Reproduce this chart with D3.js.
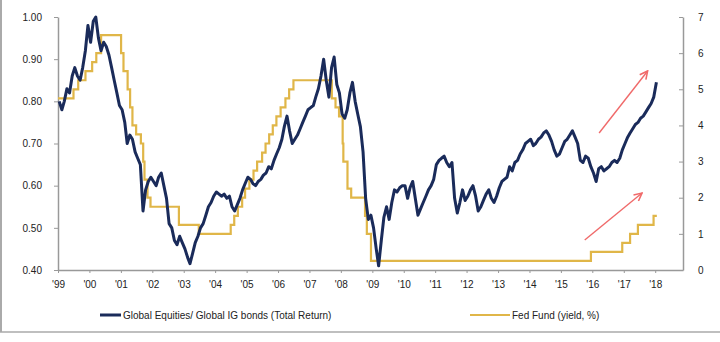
<!DOCTYPE html>
<html>
<head>
<meta charset="utf-8">
<script src="https://cdn.jsdelivr.net/npm/d3@7.9.0/dist/d3.min.js"></script>
<style>
  html, body { margin: 0; padding: 0; background: #fff; }
  svg { display: block; font-family: 'Liberation Sans', Arial, sans-serif; }
  .axis path, .axis line { stroke: #999; }
  .axis text { fill: #222; font-size: 10px; }
</style>
</head>
<body>
<svg id="chart" width="720" height="342"></svg>
<script>
// Global Equities / Global IG bonds ratio, monthly from Jan 1999
const ratioStartYear = 1999;
const ratio = [
  0.80, 0.78, 0.80, 0.83, 0.82, 0.86, 0.88, 0.86, 0.85, 0.88, 0.92, 0.98,   // 1999
  0.94, 0.99, 1.00, 0.95, 0.92, 0.94, 0.93, 0.91, 0.88, 0.85, 0.82, 0.79,   // 2000
  0.78, 0.75, 0.70, 0.72, 0.71, 0.68, 0.665, 0.65, 0.54, 0.59, 0.61, 0.62,  // 2001
  0.61, 0.60, 0.62, 0.63, 0.60, 0.57, 0.51, 0.50, 0.47, 0.46, 0.48, 0.465,  // 2002
  0.45, 0.43, 0.415, 0.44, 0.465, 0.48, 0.50, 0.51, 0.53, 0.55, 0.56, 0.575, // 2003
  0.585, 0.58, 0.575, 0.58, 0.57, 0.575, 0.55, 0.54, 0.555, 0.57, 0.59, 0.605, // 2004
  0.62, 0.615, 0.605, 0.60, 0.61, 0.615, 0.625, 0.63, 0.645, 0.64, 0.66, 0.675, // 2005
  0.69, 0.71, 0.74, 0.765, 0.73, 0.70, 0.71, 0.72, 0.735, 0.75, 0.765, 0.78,  // 2006
  0.785, 0.79, 0.81, 0.83, 0.86, 0.90, 0.85, 0.81, 0.88, 0.905, 0.84, 0.82,  // 2007
  0.77, 0.76, 0.78, 0.82, 0.845, 0.80, 0.77, 0.74, 0.68, 0.57, 0.52, 0.53,  // 2008
  0.50, 0.45, 0.41, 0.47, 0.525, 0.55, 0.52, 0.56, 0.59, 0.585, 0.595, 0.60, // 2009
  0.60, 0.57, 0.595, 0.61, 0.57, 0.53, 0.545, 0.56, 0.575, 0.59, 0.60, 0.615, // 2010
  0.65, 0.66, 0.665, 0.67, 0.655, 0.645, 0.655, 0.57, 0.535, 0.56, 0.59, 0.565, // 2011
  0.575, 0.59, 0.60, 0.575, 0.54, 0.55, 0.565, 0.58, 0.59, 0.57, 0.56, 0.575, // 2012
  0.595, 0.61, 0.615, 0.62, 0.645, 0.635, 0.655, 0.66, 0.675, 0.685, 0.70, 0.705, // 2013
  0.71, 0.695, 0.70, 0.71, 0.715, 0.725, 0.73, 0.72, 0.705, 0.685, 0.67, 0.675, // 2014
  0.69, 0.705, 0.71, 0.72, 0.73, 0.715, 0.70, 0.66, 0.655, 0.67, 0.665, 0.645, // 2015
  0.63, 0.61, 0.64, 0.645, 0.635, 0.64, 0.645, 0.655, 0.66, 0.655, 0.665, 0.685, // 2016
  0.70, 0.715, 0.725, 0.735, 0.745, 0.75, 0.76, 0.765, 0.775, 0.785, 0.795, 0.81, // 2017
  0.845                                                                      // 2018
];

// Fed funds target: dates of change and the new level (%)
const fedDates = [
  '1999-01-01', '1999-06-30', '1999-08-24', '1999-11-16', '2000-02-02', '2000-03-21', '2000-05-16',
  '2001-01-03', '2001-01-31', '2001-03-20', '2001-04-18', '2001-05-15', '2001-06-27', '2001-08-21',
  '2001-09-17', '2001-10-02', '2001-11-06', '2001-12-11', '2002-11-06', '2003-06-25',
  '2004-06-30', '2004-08-10', '2004-09-21', '2004-11-10', '2004-12-14', '2005-02-02', '2005-03-22',
  '2005-05-03', '2005-06-30', '2005-08-09', '2005-09-20', '2005-11-01', '2005-12-13', '2006-01-31',
  '2006-03-28', '2006-05-10', '2006-06-29', '2007-09-18', '2007-10-31', '2007-12-11', '2008-01-22',
  '2008-01-30', '2008-03-18', '2008-04-30', '2008-10-08', '2008-10-29', '2008-12-16', '2015-12-16',
  '2016-12-14', '2017-03-15', '2017-06-14', '2017-12-13', '2018-01-20'
];
const fedRates = [
  4.75, 5.00, 5.25, 5.50, 5.75, 6.00, 6.50,
  6.00, 5.50, 5.00, 4.50, 4.00, 3.75, 3.50,
  3.00, 2.50, 2.00, 1.75, 1.25, 1.00,
  1.25, 1.50, 1.75, 2.00, 2.25, 2.50, 2.75,
  3.00, 3.25, 3.50, 3.75, 4.00, 4.25, 4.50,
  4.75, 5.00, 5.25, 4.75, 4.50, 4.25, 3.50,
  3.00, 2.25, 2.00, 1.50, 1.00, 0.25, 0.50,
  0.75, 1.00, 1.25, 1.50, 1.50
];

const yearTicks = d3.range(1999, 2019);
const leftTicks = [0.40, 0.50, 0.60, 0.70, 0.80, 0.90, 1.00];
const rightTicks = [0, 1, 2, 3, 4, 5, 6, 7];

// red arrows: [start date, start value, end date, end value, axis]
const arrows = [
  ['2016-03-20', 0.725, '2017-10-05', 0.872, 'left'],
  ['2015-10-05', 0.83, '2017-08-01', 2.13, 'right']
];

const legendItems = [
  { label: 'Global Equities/ Global IG bonds (Total Return)', color: '#1a2b5a', width: 3 },
  { label: 'Fed Fund (yield, %)', color: '#e0b648', width: 2.2 }
];

const parse = d3.timeParse('%Y-%m-%d');
const ratioData = ratio.map((v, i) => ({ date: new Date(ratioStartYear, i, 15), value: v }));
const fedData = fedDates.map((d, i) => ({ date: parse(d), value: fedRates[i] }));

const svg = d3.select('#chart');
svg.append('rect').attr('width', 720).attr('height', 342).attr('fill', '#fff');

const x = d3.scaleTime()
  .domain([new Date(1999, 0, 1), new Date(2018, 10, 20)])
  .range([58, 683]);
const yLeft = d3.scaleLinear().domain([0.4, 1.0]).range([270, 17]);
const yRight = d3.scaleLinear().domain([0, 7]).range([270, 17]);

// frame lines at the left and bottom of the picture
svg.append('line').attr('x1', 1).attr('x2', 1).attr('y1', 0).attr('y2', 332)
  .attr('stroke', '#aaa').attr('stroke-width', 2);
svg.append('line').attr('x1', 0).attr('x2', 720).attr('y1', 332).attr('y2', 332)
  .attr('stroke', '#aaa').attr('stroke-width', 1.5);

// axes
svg.append('g')
  .attr('class', 'axis')
  .attr('transform', 'translate(58,0)')
  .call(d3.axisLeft(yLeft).tickValues(leftTicks).tickFormat(d3.format('.2f'))
    .tickSizeInner(4).tickSizeOuter(0).tickPadding(12));

svg.append('g')
  .attr('class', 'axis')
  .attr('transform', 'translate(683,0)')
  .call(d3.axisRight(yRight).tickValues(rightTicks).tickFormat(d3.format('d'))
    .tickSizeInner(-4).tickSizeOuter(0).tickPadding(15));

svg.append('g')
  .attr('class', 'axis')
  .attr('transform', 'translate(0,270)')
  .call(d3.axisBottom(x).tickValues(yearTicks.map((yr) => new Date(yr, 0, 1)))
    .tickFormat((d) => "'" + d3.timeFormat('%y')(d))
    .tickSizeInner(3).tickSizeOuter(0).tickPadding(8));

svg.selectAll('.axis path').attr('stroke-width', 1.5);

// series
svg.append('path')
  .datum(fedData)
  .attr('fill', 'none')
  .attr('stroke', legendItems[1].color)
  .attr('stroke-width', legendItems[1].width)
  .attr('d', d3.line().curve(d3.curveStepAfter).x((d) => x(d.date)).y((d) => yRight(d.value)));

svg.append('path')
  .datum(ratioData)
  .attr('fill', 'none')
  .attr('stroke', legendItems[0].color)
  .attr('stroke-width', legendItems[0].width)
  .attr('stroke-linejoin', 'round')
  .attr('d', d3.line().x((d) => x(d.date)).y((d) => yLeft(d.value)));

// arrows
svg.append('defs').append('marker')
  .attr('id', 'head')
  .attr('viewBox', '0 0 10 10')
  .attr('refX', 9).attr('refY', 5)
  .attr('markerWidth', 7).attr('markerHeight', 7)
  .attr('orient', 'auto')
  .append('path')
  .attr('d', 'M1,1 L9,5 L1,9')
  .attr('fill', 'none')
  .attr('stroke', '#f06a6a')
  .attr('stroke-width', 1.6);

arrows.forEach(([d0, v0, d1, v1, axis]) => {
  const y = axis === 'left' ? yLeft : yRight;
  svg.append('line')
    .attr('x1', x(parse(d0))).attr('y1', y(v0))
    .attr('x2', x(parse(d1))).attr('y2', y(v1))
    .attr('stroke', '#f06a6a')
    .attr('stroke-width', 1.4)
    .attr('marker-end', 'url(#head)');
});

// legend
const legendX = [100, 470];
const legendLen = [21, 40];
legendItems.forEach((item, i) => {
  const g = svg.append('g').attr('transform', `translate(${legendX[i]},315)`);
  g.append('line').attr('x1', 0).attr('x2', legendLen[i]).attr('y1', 0).attr('y2', 0)
    .attr('stroke', item.color).attr('stroke-width', item.width);
  g.append('text').attr('x', legendLen[i] + 2).attr('y', 3.5)
    .attr('font-size', 10).attr('fill', '#222').text(item.label);
});
</script>
</body>
</html>
